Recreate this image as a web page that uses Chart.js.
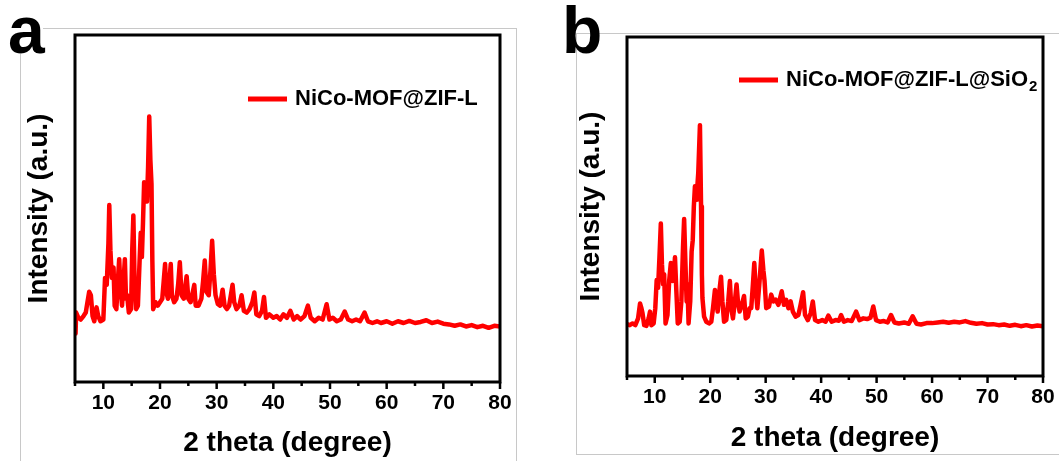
<!DOCTYPE html>
<html>
<head>
<meta charset="utf-8">
<title>XRD patterns</title>
<script src="https://cdn.jsdelivr.net/npm/chart.js@4.4.1/dist/chart.umd.min.js"></script>
<style>
  html, body { margin: 0; padding: 0; background: #fff; }
  #wrap { position: relative; width: 1059px; height: 461px; overflow: hidden; }
  canvas { position: absolute; top: 0; }
  #chartA { left: 0; }
  #chartB { left: 530px; }
</style>
</head>
<body>
<div id="wrap">
  <canvas id="chartA" width="530" height="461"></canvas>
  <canvas id="chartB" width="529" height="461"></canvas>
</div>
<script>
// X-as tick labels (2 theta)
var xTickLabels = [10, 20, 30, 40, 50, 60, 70, 80];

// Paneel a: NiCo-MOF@ZIF-L (relatieve intensiteit 0-100)
var labelA = 'NiCo-MOF@ZIF-L';
var thetaA = [5.0, 5.1, 5.2, 5.6, 6.0, 6.5, 6.9, 7.2, 7.5, 7.8, 8.1, 8.4, 8.8, 9.1, 9.5, 10.0,
  10.3, 10.6, 10.9, 11.05, 11.25, 11.5, 11.8, 12.0, 12.3, 12.6, 12.8, 13.0, 13.3, 13.6, 13.8, 14.0,
  14.2, 14.5, 14.9, 15.1, 15.3, 15.5, 15.8, 16.1, 16.4, 16.6, 16.8, 17.0, 17.2, 17.5, 17.7, 17.9,
  18.1, 18.3, 18.5, 18.65, 18.8, 19.2, 19.6, 20.0, 20.4, 20.7, 20.9, 21.1, 21.4, 21.7, 21.9, 22.1,
  22.5, 22.9, 23.2, 23.5, 23.8, 24.2, 24.5, 24.7, 25.0, 25.4, 25.8, 26.05, 26.3, 26.8, 27.3, 27.6,
  27.9, 28.2, 28.6, 28.9, 29.2, 29.5, 29.8, 30.2, 30.6, 31.05, 31.4, 31.8, 32.2, 32.5, 32.8, 33.1,
  33.5, 34.0, 34.4, 34.8, 35.3, 35.8, 36.3, 36.65, 37.0, 37.5, 38.0, 38.35, 38.7, 39.3, 40.0, 40.6,
  41.2, 41.8, 42.4, 43.0, 43.6, 44.2, 44.8, 45.5, 46.1, 46.6, 47.3, 48.0, 48.7, 49.4, 49.9, 50.5,
  51.2, 51.9, 52.6, 53.2, 53.9, 54.6, 55.3, 56.1, 56.7, 57.5, 58.3, 59.0, 60.0, 61.0, 62.0, 63.0,
  64.0, 65.0, 66.0, 67.0, 68.0, 69.0, 70.0, 71.0, 72.0, 73.0, 74.0, 75.0, 76.0, 77.0, 78.0, 79.0, 80.0];
var intensityA = [20, 14, 20, 18.5, 18, 19, 20, 23, 26, 25, 19, 17.5, 21.5, 19, 17.5, 18,
  30, 28, 40, 51, 38, 30, 33, 22, 21, 30, 35.4, 28, 22, 30, 35.4, 24,
  25, 20, 21, 38, 48, 30, 21, 22, 35, 43, 36, 46, 57.6, 56, 52, 62,
  76.5, 64, 57, 35, 21, 23, 22, 23, 24, 30, 34, 26, 24, 30, 34, 25,
  23, 24, 28, 34.5, 25, 24, 28, 30.5, 24, 23, 26, 28, 22, 22, 24, 29,
  35, 26, 25, 32, 40.7, 31, 25, 22.5, 22, 26.6, 22, 21, 22, 25, 28, 23,
  21, 22, 25, 20.5, 20, 21, 23, 25.8, 19.5, 19, 20.5, 24.5, 18.5, 19.5, 18.5, 19,
  18, 19.5, 18.5, 20.5, 18, 19, 18, 19, 22, 18.5, 17.5, 18.5, 18, 22.4, 18, 18.5,
  17.5, 18, 20.3, 18, 17.5, 18, 17.5, 20, 17.5, 17, 17.5, 17, 17.5, 16.8, 17.5, 17,
  17.6, 17, 17.3, 17.8, 17, 17.4, 16.8, 16.6, 16.2, 16.6, 16, 16.4, 15.8, 16.2, 15.6, 16.2, 16];

// Paneel b: NiCo-MOF@ZIF-L@SiO2
var labelB = 'NiCo-MOF@ZIF-L@SiO2';
var thetaB = [5.0, 5.5, 6.0, 6.5, 7.0, 7.35, 7.6, 7.8, 8.1, 8.5, 8.9, 9.15, 9.4, 9.8, 10.1, 10.35,
  10.6, 10.85, 11.1, 11.3, 11.5, 11.7, 11.95, 12.3, 12.6, 12.9, 13.2, 13.45, 13.65, 13.9, 14.15, 14.5,
  14.8, 15.1, 15.3, 15.5, 15.75, 15.9, 16.1, 16.4, 16.65, 16.85, 17.05, 17.25, 17.45, 17.6, 17.85, 18.15,
  18.35, 18.5, 18.6, 18.9, 19.3, 19.8, 20.2, 20.5, 20.85, 21.1, 21.35, 21.65, 21.95, 22.2, 22.5, 22.9,
  23.25, 23.55, 23.8, 24.1, 24.45, 24.75, 25.0, 25.3, 25.7, 26.1, 26.4, 26.8, 27.1, 27.4, 27.7, 27.95,
  28.2, 28.5, 28.9, 29.3, 29.6, 29.8, 30.1, 30.6, 31.0, 31.4, 31.8, 32.3, 32.9, 33.3, 33.7, 34.1,
  34.5, 34.9, 35.4, 35.9, 36.3, 36.75, 37.1, 37.6, 38.1, 38.5, 38.9, 39.5, 40.2, 40.8, 41.3, 41.9,
  42.6, 43.2, 43.6, 44.1, 44.8, 45.5, 46.3, 46.9, 47.6, 48.3, 48.9, 49.4, 49.9, 50.6, 51.3, 52.0,
  52.6, 53.2, 54.0, 55.0, 55.8, 56.5, 57.2, 58.0, 59.0, 60.0, 61.0, 62.0, 63.0, 64.0, 65.0, 66.0,
  67.0, 68.0, 69.0, 70.0, 71.0, 72.0, 73.0, 74.0, 75.0, 76.0, 77.0, 78.0, 79.0, 80.0];
var intensityB = [15.3, 15, 15.5, 15, 17, 21.4, 20, 18.5, 15, 14.8, 17, 19, 15, 15.5, 20, 28.3,
  26, 35, 45, 33, 27, 30, 15.5, 18, 28, 33.3, 28, 30, 35, 25, 15.5, 16,
  22, 38, 46.3, 35, 22, 27, 15.5, 22, 36.7, 40, 50, 56, 52, 54, 60, 74,
  50, 30, 23, 17.5, 16, 15.5, 16, 20, 25.4, 22, 19, 25, 29.3, 22, 16, 16.5,
  22, 28, 20, 17, 22, 27, 22, 19, 21, 23.6, 17, 17.5, 20, 20, 27, 33.3,
  26, 20, 28, 37, 31, 28, 20, 20.5, 24, 22, 22.5, 21, 25, 21, 22.5, 20,
  22, 19, 17.5, 18, 21, 24.7, 18, 16.5, 18.5, 22, 16.5, 16, 16.5, 16, 17.8, 16,
  16.5, 16.3, 18, 16, 16.5, 16.2, 19, 16.5, 17, 16.8, 17.2, 20.5, 16.5, 16, 16.2, 15.8,
  18, 15.8, 15.5, 15.8, 15.4, 17.6, 15.4, 15.2, 15.6, 15.6, 15.8, 16, 15.7, 16, 15.8, 16.2,
  15.7, 15.4, 15.6, 15.2, 15.3, 15, 15.2, 14.8, 15.1, 14.7, 15, 14.6, 14.9, 14.7];

var FONT = '"Liberation Sans", Arial, Helvetica, sans-serif';

// Plugin: zwart kader, tickstreepjes, paneelletter, legenda en grijze paneelrand
var panelDecor = {
  id: 'panelDecor',
  beforeDraw: function (chart, args, o) {
    var c = chart.ctx;
    c.save();
    c.fillStyle = '#fff';
    c.fillRect(0, 0, chart.width, chart.height);
    c.strokeStyle = '#c8c8c8';
    c.lineWidth = 1;
    c.strokeRect(o.frame[0] + 0.5, o.frame[1] + 0.5, o.frame[2], o.frame[3]);
    c.restore();
  },
  afterDraw: function (chart, args, o) {
    var c = chart.ctx, a = chart.chartArea, xs = chart.scales.x;
    c.save();
    c.strokeStyle = '#000';
    c.lineWidth = 3;
    c.strokeRect(a.left, a.top, a.right - a.left, a.bottom - a.top);
    // tickstreepjes naar beneden, lang bij gelabelde waarden
    c.lineWidth = 2.5;
    xs.ticks.forEach(function (t) {
      var px = xs.getPixelForValue(t.value);
      var len = xTickLabels.indexOf(t.value) >= 0 ? 7 : 4;
      c.beginPath();
      c.moveTo(px, a.bottom);
      c.lineTo(px, a.bottom + len);
      c.stroke();
    });
    // paneelletter
    if (o.mask) {
      c.fillStyle = '#fff';
      c.fillRect(o.mask[0], o.mask[1], o.mask[2], o.mask[3]);
    }
    c.fillStyle = '#000';
    c.font = 'bold 66px ' + FONT;
    c.textAlign = 'left';
    c.textBaseline = 'alphabetic';
    c.fillText(o.letter, o.letterX, o.letterY);
    // legenda
    var ds = chart.data.datasets[0];
    c.strokeStyle = ds.borderColor;
    c.lineWidth = 5;
    c.beginPath();
    c.moveTo(o.legendX, o.legendY);
    c.lineTo(o.legendX + 39, o.legendY);
    c.stroke();
    c.font = 'bold 22px ' + FONT;
    c.textBaseline = 'middle';
    var tx = o.legendX + 47;
    if (o.subscript) {
      var main = ds.label.slice(0, -1);
      c.fillText(main, tx, o.legendY);
      var w = c.measureText(main).width;
      c.font = 'bold 15px ' + FONT;
      c.fillText(ds.label.slice(-1), tx + w + 1, o.legendY + 7);
    } else {
      c.fillText(ds.label, tx, o.legendY);
    }
    c.restore();
  }
};

function makeChart(id, theta, intensity, label, pad, area, decor) {
  var points = theta.map(function (t, i) { return { x: t, y: intensity[i] }; });
  var ctx = document.getElementById(id).getContext('2d');
  return new Chart(ctx, {
    type: 'line',
    data: {
      datasets: [{
        label: label,
        data: points,
        borderColor: '#ff0000',
        borderWidth: 4.5,
        borderJoinStyle: 'round',
        borderCapStyle: 'round',
        pointRadius: 0,
        tension: 0,
        fill: false
      }]
    },
    options: {
      responsive: false,
      animation: false,
      layout: { padding: pad },
      plugins: {
        legend: { display: false },
        tooltip: { enabled: false },
        panelDecor: decor
      },
      scales: {
        x: {
          type: 'linear',
          min: 5,
          max: 80,
          grid: { display: false, drawTicks: false },
          border: { display: false },
          ticks: {
            stepSize: 5,
            autoSkip: false,
            maxRotation: 0,
            padding: 9,
            color: '#000',
            font: { family: FONT, size: 21, weight: 'bold' },
            callback: function (v) { return xTickLabels.indexOf(v) >= 0 ? String(v) : ''; }
          },
          title: {
            display: true,
            text: '2 theta (degree)',
            color: '#000',
            padding: { top: 4, bottom: 0 },
            font: { family: FONT, size: 28, weight: 'bold' }
          },
          afterFit: function (s) {
            s.height = area.xHeight;
            s.paddingLeft = 0;
            s.paddingRight = 0;
          }
        },
        y: {
          min: 0,
          max: 100,
          grid: { display: false, drawTicks: false },
          border: { display: false },
          ticks: { display: false },
          title: {
            display: true,
            text: 'Intensity (a.u.)',
            color: '#000',
            padding: { top: 4, bottom: 0 },
            font: { family: FONT, size: 28, weight: 'bold' }
          },
          afterFit: function (s) {
            s.width = area.yWidth;
            s.paddingTop = 0;
            s.paddingBottom = 0;
          }
        }
      }
    },
    plugins: [panelDecor]
  });
}

// Paneel a: plotgebied x 75-500, y 35-382
makeChart('chartA', thetaA, intensityA, labelA,
  { left: 18, top: 35, right: 30, bottom: 1 },
  { yWidth: 57, xHeight: 78 },
  { letter: 'a', letterX: 8, letterY: 53, mask: [0, 0, 43, 54],
    legendX: 248, legendY: 99, subscript: false, frame: [20, 28, 496, 460] });

// Paneel b: plotgebied x 627-1043, y 37-376 (canvas begint op x=530)
makeChart('chartB', thetaB, intensityB, labelB,
  { left: 40, top: 37, right: 16, bottom: 6 },
  { yWidth: 57, xHeight: 79 },
  { letter: 'b', letterX: 32, letterY: 53, mask: null,
    legendX: 209, legendY: 80, subscript: true, frame: [46, 33, 520, 421] });
</script>
</body>
</html>
